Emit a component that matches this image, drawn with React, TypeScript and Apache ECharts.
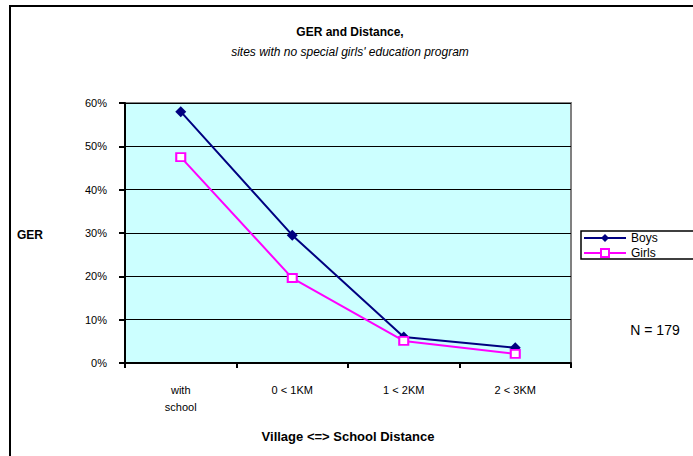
import React, { useEffect, useRef } from "react";
import * as echarts from "echarts";

const categories = ["with\nschool", "0 < 1KM", "1 < 2KM", "2 < 3KM"];
const boys = [58, 29.5, 6, 3.5];
const girls = [47.5, 19.6, 5.1, 2.1];
const yTicks = [0, 10, 20, 30, 40, 50, 60];

export default function App() {
  const ref = useRef<HTMLDivElement>(null);
  useEffect(() => {
    if (!ref.current) return;
    const chart = echarts.init(ref.current, null, { renderer: "svg" });
    const font = "Liberation Sans, Arial, sans-serif";
    chart.setOption({
      animation: false,
      backgroundColor: "#ffffff",
      textStyle: { fontFamily: font },
      grid: {
        left: 125,
        top: 103,
        right: 122,
        bottom: 93,
        show: true,
        backgroundColor: "#CCFFFF",
        borderColor: "#808080",
        borderWidth: 2,
      },
      xAxis: {
        type: "category",
        data: categories,
        boundaryGap: true,
        axisLine: { show: true, lineStyle: { color: "#000", width: 2 } },
        axisTick: { show: true, length: 5, lineStyle: { color: "#000", width: 2 }, alignWithLabel: false },
        axisLabel: { color: "#000", fontSize: 11, margin: 18, lineHeight: 17, fontFamily: font },
        splitLine: { show: false },
      },
      yAxis: {
        type: "value",
        min: yTicks[0],
        max: yTicks[yTicks.length - 1],
        interval: 10,
        axisLine: { show: true, lineStyle: { color: "#000", width: 2 } },
        axisTick: { show: true, length: 6, lineStyle: { color: "#000", width: 2 } },
        axisLabel: { color: "#000", fontSize: 11, margin: 18, formatter: "{value}%", fontFamily: font },
        splitLine: { show: true, lineStyle: { color: "#000", width: 1 } },
      },
      legend: {
        orient: "vertical",
        left: 583,
        top: 232,
        itemWidth: 42,
        itemHeight: 10,
        itemGap: 3,
        padding: 0,
        textStyle: { color: "#000", fontSize: 12, fontFamily: font },
        data: ["Boys", "Girls"],
      },
      series: [
        {
          name: "Boys",
          type: "line",
          data: boys,
          symbol: "diamond",
          symbolSize: 11,
          itemStyle: { color: "#000080" },
          lineStyle: { color: "#000080", width: 2 },
        },
        {
          name: "Girls",
          type: "line",
          data: girls,
          symbol: "rect",
          symbolSize: [9, 8],
          itemStyle: { color: "#ffffff", borderColor: "#FF00FF", borderWidth: 2 },
          lineStyle: { color: "#FF00FF", width: 2 },
        },
      ],
      graphic: [
        {
          type: "rect",
          shape: { x: 10, y: 6, width: 700, height: 470 },
          style: { fill: "none", stroke: "#000", lineWidth: 2 },
          silent: true,
          z: 100,
        },
        {
          type: "rect",
          shape: { x: 581, y: 231, width: 130, height: 28 },
          style: { fill: "none", stroke: "#000", lineWidth: 1.5 },
          silent: true,
          z: 100,
        },
        {
          type: "text",
          x: 350,
          y: 32,
          style: {
            text: "GER and Distance,",
            fill: "#000",
            font: "bold 12px " + font,
            textAlign: "center",
            textVerticalAlign: "middle",
          },
        },
        {
          type: "text",
          x: 350,
          y: 52,
          style: {
            text: "sites with no special girls' education program",
            fill: "#000",
            font: "italic 12px " + font,
            textAlign: "center",
            textVerticalAlign: "middle",
          },
        },
        {
          type: "text",
          x: 17,
          y: 235,
          style: {
            text: "GER",
            fill: "#000",
            font: "bold 12px " + font,
            textAlign: "left",
            textVerticalAlign: "middle",
          },
        },
        {
          type: "text",
          x: 348,
          y: 436,
          style: {
            text: "Village <=> School Distance",
            fill: "#000",
            font: "bold 13px " + font,
            textAlign: "center",
            textVerticalAlign: "middle",
          },
        },
        {
          type: "text",
          x: 655,
          y: 330,
          style: {
            text: "N = 179",
            fill: "#000",
            font: "14px " + font,
            textAlign: "center",
            textVerticalAlign: "middle",
          },
        },
      ],
    });
    return () => chart.dispose();
  }, []);
  return (
    <div
      ref={ref}
      style={{ position: "absolute", left: 0, top: 0, width: 693, height: 456 }}
    />
  );
}
